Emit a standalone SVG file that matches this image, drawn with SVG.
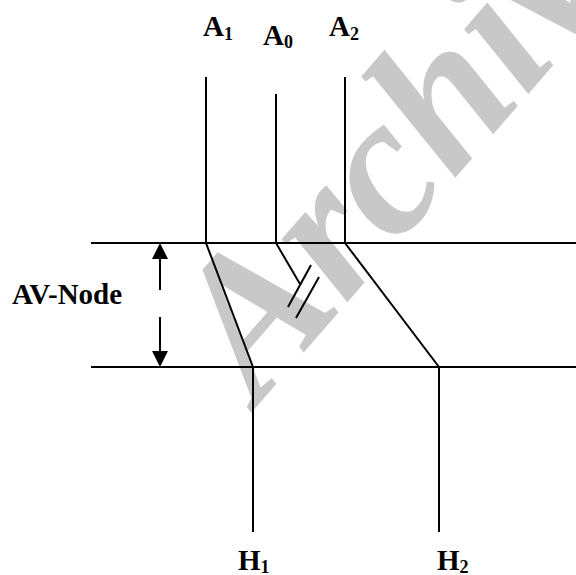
<svg xmlns="http://www.w3.org/2000/svg" width="576" height="575" viewBox="0 0 576 575">
<style>
.ln{stroke:#000;stroke-width:2;fill:none;stroke-linecap:butt}
.lbl{font-weight:bold;font-size:29px;fill:#000}
.sub{font-size:18px}
.wm{font-weight:bold;font-style:italic;font-size:198px;fill:#c8c8c8}
</style>
<rect width="576" height="575" fill="#fff"/>
<text class="wm" font-family="Liberation Serif, DejaVu Serif, serif" transform="translate(258,405) rotate(-49)">Archive</text>
<g id="connectors">
<line class="ln" x1="91" y1="243" x2="576" y2="243"/>
<line class="ln" x1="91" y1="367" x2="576" y2="367"/>
<line class="ln" x1="206" y1="77" x2="206" y2="243"/>
<line class="ln" x1="276" y1="94" x2="276" y2="243"/>
<line class="ln" x1="345" y1="77" x2="345" y2="243"/>
<line class="ln" x1="206" y1="243" x2="253" y2="367"/>
<line class="ln" x1="253" y1="367" x2="253" y2="532"/>
<line class="ln" x1="276" y1="243" x2="300" y2="284"/>
<line class="ln" x1="311" y1="265" x2="288" y2="307"/>
<line class="ln" x1="319" y1="277" x2="296" y2="318"/>
<line class="ln" x1="345" y1="243" x2="439" y2="367"/>
<line class="ln" x1="439" y1="367" x2="439" y2="532"/>
<line class="ln" x1="160" y1="257" x2="160" y2="290"/>
<line class="ln" x1="160" y1="317" x2="160" y2="353"/>
<polygon points="160,243 152,259 168,259" fill="#000"/>
<polygon points="160,367 152,351 168,351" fill="#000"/>
</g>
<g font-family="Liberation Serif, DejaVu Serif, serif">
<g id="A1"><text class="lbl" x="203" y="36">A<tspan class="sub" dy="4">1</tspan></text></g>
<g id="A0"><text class="lbl" x="263" y="45">A<tspan class="sub" dy="3">0</tspan></text></g>
<g id="A2"><text class="lbl" x="329" y="36">A<tspan class="sub" dy="4">2</tspan></text></g>
<g id="AVNode"><text class="lbl" x="12" y="304">AV-Node</text></g>
<g id="H1"><text class="lbl" x="238" y="570">H<tspan class="sub" dy="3">1</tspan></text></g>
<g id="H2"><text class="lbl" x="437" y="570">H<tspan class="sub" dy="3">2</tspan></text></g>
</g>
</svg>
